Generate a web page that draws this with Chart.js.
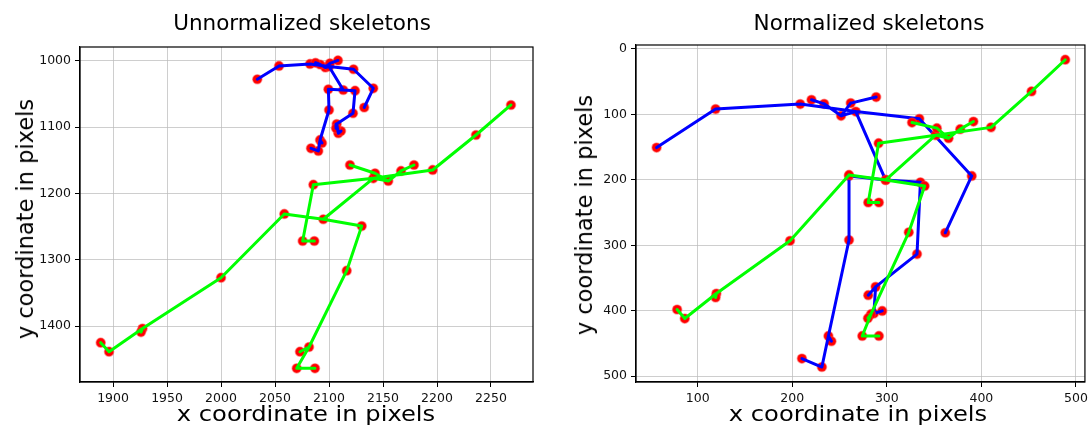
<!DOCTYPE html>
<html>
<head>
<meta charset="utf-8">
<script src="https://cdn.jsdelivr.net/npm/chart.js@4.4.1/dist/chart.umd.min.js"></script>
<style>
  html, body { margin:0; padding:0; background:#fff; }
  body { width:1092px; height:429px; overflow:hidden; position:relative; font-family:"DejaVu Sans", sans-serif; color:#000; }
  .wrap { position:absolute; top:0; width:546px; height:429px; }
  .txt { position:absolute; white-space:nowrap; transform:translate(-50%,-50%); }
  .title { font-size:20.5px; transform:translate(-50%,-50%) scaleX(1.05); }
  .axl { font-size:22px; transform:translate(-50%,-50%) scaleX(1.1); }
  .rot { font-size:22.5px; transform:translate(-50%,-50%) rotate(-90deg); }
</style>
</head>
<body>
<div class="wrap" style="left:0"><canvas id="c1"></canvas></div>
<div class="wrap" style="left:546px"><canvas id="c2"></canvas></div>

<div class="txt title" style="left:302px;top:23px">Unnormalized skeletons</div>
<div class="txt title" style="left:869px;top:23px">Normalized skeletons</div>
<div class="txt axl" style="left:306px;top:413px">x coordinate in pixels</div>
<div class="txt axl" style="left:858px;top:413px">x coordinate in pixels</div>
<div class="txt rot" style="left:25px;top:219px">y coordinate in pixels</div>
<div class="txt rot" style="left:584px;top:215px">y coordinate in pixels</div>

<script>
// Body25 keypoint order: nose, neck, RSh, REl, RWr, LSh, LEl, LWr, MidHip, RHip, RKnee, RAnk,
// LHip, LKnee, LAnk, REye, LEye, REar, LEar, LBigToe, LSmallToe, LHeel, RBigToe, RSmallToe, RHeel
const edges = [[1,8],[1,2],[1,5],[2,3],[3,4],[5,6],[6,7],[8,9],[9,10],[10,11],[8,12],[12,13],[13,14],
               [1,0],[0,15],[15,17],[0,16],[16,18],[14,19],[19,20],[14,21],[11,22],[22,23],[11,24]];

// Unnormalized skeletons
const leftBlueX = [2096.6,2100,2082.4,2053.7,2033.6,2122.7,2141,2132.6,2113.2,2099.4,2100,2091.7,
                   2124.1,2122.2,2107.1,2091.7,2100.9,2087.5,2108.3,2108.6,2111.1,2106.5,2090.1,2083.3,2093.5];
const leftBlueY = [1009.8,1008.3,1004.5,1007.5,1027.6,1012.5,1041.2,1070.2,1043.8,1042.7,1074,1119.2,
                   1044.8,1078.9,1095.1,1005.3,1003.5,1002.7,999.2,1109.1,1105.7,1101.6,1135.8,1131.8,1123.8];
const leftGreenX = [2154.9,2141,2085.5,2075.6,2086.4,2196,2236.1,2268.5,2094.7,2058.6,2000,1927.3,
                    2130.3,2116.4,2081.5,2142.6,2166.7,2119.4,2178.7,2070.1,2087,2073.1,1896.3,1888.6,1925.9];
const leftGreenY = [1181.1,1177.1,1186.7,1271.7,1271.7,1164.5,1111.7,1066.4,1238.9,1230.9,1327.1,1403.8,
                    1249.1,1316.5,1431.7,1169.5,1166,1157,1157,1463.8,1463.8,1438.8,1438.8,1425.2,1409.1];

// Normalized skeletons
const rightBlueX = [251.6,267.1,208.4,118.9,56.5,334.4,389.8,361.8,298.6,260,260,238.2,
                    335.5,331.9,288.1,233.7,261.8,220.3,288.7,286.3,295.1,280.3,231.3,210.2,241.4];
const rightBlueY = [102.1,95.6,84.2,91.9,150.7,106.7,194,280.9,200.2,194,292,438.6,
                    203.7,313.5,363.6,83.8,82.7,77.6,73.5,404.3,400.3,376.3,486.1,473.2,446.7];
const rightGreenX = [365.3,351.6,291.3,280.3,291.6,410.2,453,488.7,298.9,260,197.6,119.7,
                     340,323.2,283.2,352.9,377.6,326.6,391.6,274,291.6,280,86.3,78.2,118.9];
const rightGreenY = [136.3,131.7,144,234.6,234.6,119.8,64.9,16.4,200.2,192.5,293.1,373.7,
                     209.3,280.2,405.4,121,122.5,112.4,110.9,438.6,438.6,411.5,412,398.2,379.8];

// tick labels
const leftXTicks = [1900,1950,2000,2050,2100,2150,2200,2250];
const leftYTicks = [1000,1100,1200,1300,1400];
const rightXTicks = [100,200,300,400,500];
const rightYTicks = [0,100,200,300,400,500];

function pts(X, Y) { return X.map((x, i) => ({x: x, y: Y[i]})); }
function segs(X, Y) {
  const out = [];
  edges.forEach(([a, b]) => {
    out.push({x: X[a], y: Y[a]}, {x: X[b], y: Y[b]}, {x: null, y: null});
  });
  return out;
}
function skelDatasets(X, Y, color, base) {
  return [
    { data: pts(X, Y), showLine: false, pointRadius: 4.6, pointBackgroundColor: '#ff0000',
      pointBorderColor: 'rgba(255,60,60,0.45)', pointBorderWidth: 1.5, order: base + 1 },
    { data: segs(X, Y), showLine: true, spanGaps: false, borderColor: color, borderWidth: 3,
      borderCapStyle: 'round', borderJoinStyle: 'round', pointRadius: 0, order: base }
  ];
}

const frame = {
  id: 'frame',
  afterDatasetsDraw(chart) {
    const a = chart.chartArea, ctx = chart.ctx;
    ctx.save();
    ctx.strokeStyle = '#000';
    ctx.lineWidth = 1.2;
    ctx.strokeRect(a.left, a.top, a.right - a.left, a.bottom - a.top);
    ctx.restore();
  }
};

function axis(cfg) {
  return {
    type: 'linear', min: cfg.min, max: cfg.max, reverse: !!cfg.reverse,
    afterBuildTicks: s => { s.ticks = cfg.ticks.map(v => ({value: v})); },
    afterFit: s => { if (cfg.w !== undefined) s.width = cfg.w; if (cfg.h !== undefined) s.height = cfg.h; },
    ticks: { color: '#111', font: { family: 'DejaVu Sans', size: 12.5 }, padding: 4,
             autoSkip: false, maxRotation: 0, callback: v => String(v) },
    grid: { color: 'rgba(185,185,185,0.7)', lineWidth: 1, tickLength: 5, tickColor: '#000', drawTicks: true },
    border: { display: true, color: '#000', width: 1.2 }
  };
}

function makeChart(id, datasets, pad, xa, ya) {
  return new Chart(document.getElementById(id), {
    type: 'scatter',
    data: { datasets: datasets },
    options: {
      responsive: true, maintainAspectRatio: false, animation: false, events: [],
      layout: { padding: pad },
      plugins: { legend: { display: false }, tooltip: { enabled: false }, title: { display: false } },
      scales: { x: axis(xa), y: axis(ya) }
    },
    plugins: [frame]
  });
}

makeChart('c1',
  [...skelDatasets(leftBlueX, leftBlueY, '#0000ff', 3), ...skelDatasets(leftGreenX, leftGreenY, '#00ff00', 0)],
  { left: 0, right: 13, top: 47, bottom: 0 },
  { min: 1869.4, max: 2288.9, ticks: leftXTicks, h: 47 },
  { min: 978.9, max: 1484.5, ticks: leftYTicks, reverse: true, w: 80 });

makeChart('c2',
  [...skelDatasets(rightBlueX, rightBlueY, '#0000ff', 3), ...skelDatasets(rightGreenX, rightGreenY, '#00ff00', 0)],
  { left: 0, right: 5, top: 45, bottom: 0 },
  { min: 34.7, max: 509.5, ticks: rightXTicks, h: 47 },
  { min: -6.1, max: 509, ticks: rightYTicks, reverse: true, w: 90 });
</script>
</body>
</html>
